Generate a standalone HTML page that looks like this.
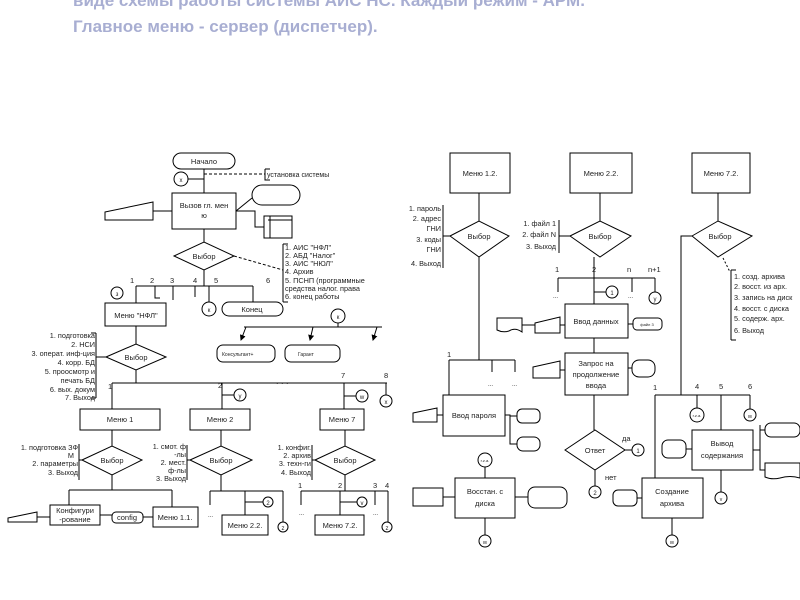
<!DOCTYPE html>
<html><head><meta charset="utf-8"><style>
body{margin:0;background:#fff;width:800px;height:600px;overflow:hidden}
svg{position:absolute;left:0;top:0}
.t{position:absolute;left:73px;font:bold 17px "Liberation Sans","DejaVu Sans",sans-serif;color:#a8aed2;white-space:nowrap}
</style></head><body>
<div class="t" style="top:-9px">виде схемы работы системы АИС НС. Каждый режим - АРМ.</div>
<div class="t" style="top:17px">Главное меню - сервер (диспетчер).</div>
<svg width="800" height="600" viewBox="0 0 800 600" font-family="Liberation Sans, DejaVu Sans, sans-serif" font-size="7.5" fill="none" stroke="#000" stroke-width="1">
<defs><marker id="a" markerWidth="6" markerHeight="6" refX="5" refY="3" orient="auto"><path d="M0,0L6,3L0,6z" fill="#000" stroke="none"/></marker></defs>
<g fill="#fff">
<rect x="173" y="153" width="62" height="16" rx="8"/>
<circle cx="181" cy="179" r="7"/>
<rect x="172" y="193" width="64" height="36"/>
<path d="M105,212L153,202V220H105Z"/>
<rect x="252" y="185" width="48" height="20" rx="10"/>
<rect x="264" y="216" width="28" height="22"/>
<path d="M174,256L204,242L234,256L204,270Z"/>
<circle cx="117" cy="293" r="6"/>
<rect x="105" y="303" width="61" height="23"/>
<circle cx="209" cy="309" r="7"/>
<rect x="222" y="302" width="61" height="14" rx="7"/>
<path d="M106,357L136,344L166,357L136,370Z"/>
<circle cx="338" cy="316" r="7"/>
<rect x="217" y="345" width="58" height="17" rx="6"/>
<rect x="285" y="345" width="55" height="17" rx="6"/>
<circle cx="240" cy="395" r="6"/><circle cx="362" cy="396" r="6"/><circle cx="386" cy="401" r="6"/>
<rect x="80" y="409" width="80" height="21"/>
<rect x="190" y="409" width="60" height="21"/>
<rect x="320" y="409" width="44" height="21"/>
<path d="M82,460L112,446L142,460L112,475Z"/>
<path d="M190,460L221,446L252,460L221,475Z"/>
<path d="M315,460L345,446L375,460L345,475Z"/>
<rect x="50" y="505" width="50" height="20"/>
<path d="M8,518L37,512V522H8Z"/>
<rect x="112" y="512" width="31" height="11" rx="4"/>
<rect x="153" y="507" width="45" height="20"/>
<circle cx="268" cy="502" r="5"/><circle cx="283" cy="527" r="5"/>
<rect x="222" y="515" width="46" height="20"/>
<circle cx="362" cy="502" r="5"/><circle cx="387" cy="527" r="5"/>
<rect x="315" y="515" width="49" height="20"/>
<rect x="450" y="153" width="60" height="40"/>
<rect x="570" y="153" width="62" height="40"/>
<rect x="692" y="153" width="58" height="40"/>
<path d="M450,236L479,221L509,236L479,257Z"/>
<path d="M570,236L600,221L631,236L600,257Z"/>
<path d="M692,236L718,221L752,236L718,257Z"/>
<circle cx="612" cy="292" r="6"/><circle cx="655" cy="298" r="6"/>
<rect x="565" y="304" width="63" height="34"/>
<rect x="633" y="318" width="29" height="12" rx="4"/>
<path d="M535,323L560,317V333H535Z"/>
<path d="M497,318H522V332Q515,327 509,331Q503,333 497,330Z"/>
<rect x="565" y="353" width="63" height="42"/>
<path d="M533,367L560,361V378H533Z"/>
<rect x="632" y="360" width="23" height="17" rx="7"/>
<path d="M565,450L595,430L625,450L595,470Z"/>
<circle cx="638" cy="450" r="6"/><circle cx="595" cy="492" r="6"/>
<rect x="443" y="395" width="62" height="41"/>
<path d="M413,413L437,408V422H413Z"/>
<rect x="517" y="409" width="23" height="14" rx="5"/>
<rect x="517" y="437" width="23" height="14" rx="6"/>
<circle cx="485" cy="460" r="7"/>
<rect x="455" y="478" width="60" height="40"/>
<rect x="413" y="488" width="30" height="18"/>
<rect x="528" y="487" width="39" height="21" rx="7"/>
<circle cx="485" cy="541" r="6"/>
<circle cx="697" cy="415" r="7"/><circle cx="750" cy="415" r="6"/>
<rect x="692" y="430" width="61" height="40"/>
<rect x="662" y="440" width="24" height="18" rx="6"/>
<rect x="765" y="423" width="35" height="14" rx="6"/>
<path d="M765,463H800V478Q790,475 780,478Q772,480 765,477Z"/>
<circle cx="721" cy="498" r="6"/>
<rect x="642" y="478" width="61" height="40"/>
<rect x="613" y="490" width="24" height="16" rx="5"/>
<circle cx="672" cy="541" r="6"/>
</g>
<path d="M204,169V193M188,179H204M204,229V242M204,270V286M136,286H253M136,286V303M155,286V298H160M173,286V300M195,286V297M209,286V302M253,286V302M153,211H172M236,211L252,198M236,211H255V227H264M268,220H292M270,216V238"/>
<path d="M204,174H265M234,256L283,270" stroke-dasharray="3,2"/>
<path d="M265,169H270M265,169V180H270M283,244V302M283,244H288M283,302H288M96,333V398M96,357H106M91,333H96M91,398H96"/>
<path d="M338,323V327M244,327H382"/>
<path d="M246,327L241,340" marker-end="url(#a)"/>
<path d="M313,327L310,340" marker-end="url(#a)"/>
<path d="M377,327L373,340" marker-end="url(#a)"/>
<path d="M136,326V344M136,370V383M112,383H387M112,383V409M222,383V409M344,383V409M386,383V395M234,395H222M356,396H344M112,430V446M221,430V446M345,430V446M112,475V490M69,490H172M69,490V505M172,490V507M37,517H50M100,515H112M143,517H153M221,475V491M210,491H283M210,491V505M245,491V515M263,502H245M283,491V522M345,475V491M301,491H388M301,491V505M340,491V515M357,502H340M375,491V505M388,491V522"/>
<path d="M79,444V480M79,460H82M187,445V480M187,460H190M312,445V480M312,460H315"/>
<path d="M479,193V221M600,193V221M718,193V221M479,257V360M449,360H515M449,360V395M492,360V372M515,360V372M443,205V268M443,236H450M559,220V253M559,236H570M594,257V304M558,278H655M558,278V292M632,278V292M655,278V292M606,292H594M560,325H565M522,325H535M628,324H633M594,338V353M560,370H565M628,368H632M594,395V430M625,450H632M595,470V486M437,415H443M505,415H510V444H517M510,416H517M485,467V478M443,497H455M515,497H528M485,518V535M692,236H681V395M655,395H750M655,395V478M697,395V408M721,395V430M750,395V409M686,449H692M753,450H760V470H765M760,430H765M760,425V470M721,470V492M637,498H642M672,518V535M731,270V340M731,270H736M731,340H736"/>
<path d="M723,258L730,272" stroke-dasharray="2,2"/>
<g fill="#222" stroke="none">
<text x="204" y="164" text-anchor="middle">Начало</text>
<text x="181" y="182" text-anchor="middle" font-size="6">x</text>
<text x="267" y="177" font-size="7">установка системы</text>
<text x="204" y="208" text-anchor="middle">Вызов гл. мен</text><text x="204" y="218" text-anchor="middle">ю</text>
<text x="204" y="259" text-anchor="middle">Выбор</text>
<g font-size="7.3"><text x="285" y="250">1. АИС  "НФЛ"</text><text x="285" y="258">2. АБД  "Налог"</text><text x="285" y="266">3. АИС  "НЮЛ"</text><text x="285" y="274">4. Архив</text><text x="285" y="283">5. ПСНП (программные</text><text x="285" y="291">средства налог. права</text><text x="285" y="299">6. конец работы</text></g>
<text x="130" y="283">1</text><text x="150" y="283">2</text><text x="170" y="283">3</text><text x="193" y="283">4</text><text x="214" y="283">5</text><text x="266" y="283">6</text>
<text x="117" y="296" text-anchor="middle" font-size="6">з</text>
<text x="136" y="318" text-anchor="middle">Меню "НФЛ"</text>
<text x="209" y="312" text-anchor="middle" font-size="6">к</text>
<text x="252" y="312" text-anchor="middle">Конец</text>
<text x="136" y="360" text-anchor="middle">Выбор</text>
<g text-anchor="end" font-size="7.3"><text x="95" y="338">1. подготовка</text><text x="95" y="347">2. НСИ</text><text x="95" y="356">3. операт. инф-ция</text><text x="95" y="365">4. корр. БД</text><text x="95" y="374">5. проосмотр и</text><text x="95" y="383">печать БД</text><text x="95" y="392">6. вых. докум</text><text x="95" y="400">7. Выход</text></g>
<text x="338" y="319" text-anchor="middle" font-size="6">к</text>
<text x="222" y="356" font-size="5">Консультант+</text><text x="298" y="356" font-size="5">Гарант</text>
<text x="276" y="384" font-size="9">. . .</text>
<text x="108" y="389">1</text><text x="218" y="388">2</text><text x="341" y="378">7</text><text x="384" y="378">8</text>
<text x="240" y="398" text-anchor="middle" font-size="6">y</text><text x="362" y="399" text-anchor="middle" font-size="6">w</text><text x="386" y="404" text-anchor="middle" font-size="6">x</text>
<text x="120" y="422" text-anchor="middle">Меню 1</text><text x="220" y="422" text-anchor="middle">Меню 2</text><text x="342" y="422" text-anchor="middle">Меню 7</text>
<text x="112" y="463" text-anchor="middle">Выбор</text><text x="221" y="463" text-anchor="middle">Выбор</text><text x="345" y="463" text-anchor="middle">Выбор</text>
<g text-anchor="end" font-size="7.3"><text x="78" y="450">1. подготовка ЗФ</text><text x="74" y="458">М</text><text x="78" y="466">2. параметры</text><text x="78" y="475">3. Выход</text>
<text x="186" y="449">1. смот. ф</text><text x="186" y="457">-лы</text><text x="186" y="465">2. мест.</text><text x="186" y="473">ф-лы</text><text x="186" y="481">3. Выход</text>
<text x="311" y="450">1. конфиг.</text><text x="311" y="458">2. архив</text><text x="311" y="466">3. техн-ги</text><text x="311" y="475">4. Выход</text></g>
<text x="75" y="513" text-anchor="middle">Конфигури</text><text x="75" y="522" text-anchor="middle">-рование</text>
<text x="127" y="520" text-anchor="middle">config</text>
<text x="175" y="520" text-anchor="middle">Меню 1.1.</text>
<text x="208" y="517" font-size="6">...</text>
<text x="268" y="505" text-anchor="middle" font-size="6">2</text><text x="283" y="530" text-anchor="middle" font-size="6">z</text>
<text x="245" y="528" text-anchor="middle">Меню 2.2.</text>
<text x="298" y="488">1</text><text x="338" y="488">2</text><text x="373" y="488">3</text><text x="385" y="488">4</text>
<text x="299" y="515" font-size="6">...</text><text x="373" y="515" font-size="6">...</text>
<text x="362" y="505" text-anchor="middle" font-size="6">v</text><text x="387" y="530" text-anchor="middle" font-size="6">z</text>
<text x="340" y="528" text-anchor="middle">Меню 7.2.</text>
<text x="480" y="176" text-anchor="middle">Меню 1.2.</text><text x="601" y="176" text-anchor="middle">Меню 2.2.</text><text x="721" y="176" text-anchor="middle">Меню 7.2.</text>
<text x="479" y="239" text-anchor="middle">Выбор</text><text x="600" y="239" text-anchor="middle">Выбор</text><text x="720" y="239" text-anchor="middle">Выбор</text>
<g text-anchor="end" font-size="7.3"><text x="441" y="211">1. пароль</text><text x="441" y="221">2. адрес</text><text x="441" y="231">ГНИ</text><text x="441" y="242">3. коды</text><text x="441" y="252">ГНИ</text><text x="441" y="266">4. Выход</text>
<text x="556" y="226">1. файл 1</text><text x="556" y="237">2. файл N</text><text x="556" y="249">3. Выход</text></g>
<g font-size="7.3"><text x="734" y="279">1. созд. архива</text><text x="734" y="289">2. восст. из арх.</text><text x="734" y="300">3. запись на диск</text><text x="734" y="311">4. восст. с диска</text><text x="734" y="321">5. содерж. арх.</text><text x="734" y="333">6. Выход</text></g>
<text x="555" y="272">1</text><text x="592" y="272">2</text><text x="627" y="272">n</text><text x="648" y="272">n+1</text>
<text x="553" y="298" font-size="6">...</text><text x="628" y="298" font-size="6">...</text>
<text x="612" y="295" text-anchor="middle" font-size="6">1</text><text x="655" y="301" text-anchor="middle" font-size="6">y</text>
<text x="596" y="324" text-anchor="middle">Ввод данных</text>
<text x="647" y="326" text-anchor="middle" font-size="4">файл 3</text>
<text x="596" y="366" text-anchor="middle">Запрос на</text><text x="596" y="377" text-anchor="middle">продолжение</text><text x="596" y="388" text-anchor="middle">ввода</text>
<text x="447" y="357">1</text><text x="488" y="386" font-size="6">...</text><text x="512" y="386" font-size="6">...</text>
<text x="474" y="418" text-anchor="middle">Ввод пароля</text>
<text x="595" y="453" text-anchor="middle">Ответ</text>
<text x="622" y="441">да</text><text x="605" y="480">нет</text>
<text x="638" y="453" text-anchor="middle" font-size="6">1</text><text x="595" y="495" text-anchor="middle" font-size="6">2</text>
<text x="485" y="462" text-anchor="middle" font-size="4">r.z.a.</text>
<text x="485" y="494" text-anchor="middle">Восстан. с</text><text x="485" y="506" text-anchor="middle">диска</text>
<text x="485" y="544" text-anchor="middle" font-size="5">м</text>
<text x="653" y="390">1</text><text x="695" y="389">4</text><text x="719" y="389">5</text><text x="748" y="389">6</text>
<text x="697" y="417" text-anchor="middle" font-size="4">r.z.a.</text><text x="750" y="418" text-anchor="middle" font-size="5">м</text>
<text x="722" y="446" text-anchor="middle">Вывод</text><text x="722" y="458" text-anchor="middle">содержания</text>
<text x="721" y="501" text-anchor="middle" font-size="5">v</text>
<text x="672" y="494" text-anchor="middle">Создание</text><text x="672" y="506" text-anchor="middle">архива</text>
<text x="672" y="544" text-anchor="middle" font-size="5">м</text>
</g>
</svg>
</body></html>
